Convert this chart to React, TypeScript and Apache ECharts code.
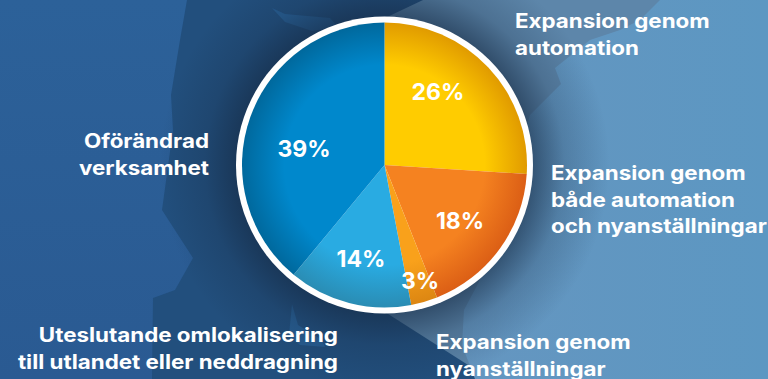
import React, { useEffect, useRef } from "react";
import * as echarts from "echarts";

// Survey outcome shares, clockwise from twelve o'clock.
const categories = [
  "Expansion genom\nautomation",
  "Expansion genom\nbåde automation\noch nyanställningar",
  "Expansion genom\nnyanställningar",
  "Uteslutande omlokalisering\ntill utlandet eller neddragning",
  "Oförändrad\nverksamhet",
];
const shares = [26, 18, 3, 14, 39];

const sliceInner = ["#ffcc00", "#f58220", "#f9a11b", "#29abe2", "#0088cc"];
const sliceRim = ["#e09a00", "#db5e15", "#dc8612", "#2a8cb3", "#00689c"];

const percentSpots = [
  [438, 92],
  [460, 221],
  [420, 281],
  [361, 259],
  [304, 149],
];
const nameSpots: [number, number, "left" | "right"][] = [
  [515, 8, "left"],
  [551, 160, "left"],
  [436, 329, "left"],
  [338, 322, "right"],
  [209, 128, "right"],
];

const FONT = "Inter";
const CX = 384.5;
const CY = 165;

const poly = (points: number[][], fill: any, z: number) => ({
  type: "polygon",
  z,
  silent: true,
  shape: { points },
  style: { fill },
});

const lightMap = [
  [660, 0], [640, 20], [620, 30], [590, 40], [555, 68], [561, 84], [530, 115],
  [505, 200], [480, 280], [464, 310], [462, 345], [475, 379], [768, 379], [768, 0],
];
const shadeWedge = [[423, 0], [385, 18], [385, 312], [490, 379], [768, 379], [768, 0]];
const darkBand = [
  [187, 0], [180, 40], [171, 95], [173, 130], [162, 210], [193, 258], [175, 290],
  [153, 298], [152, 379], [768, 379], [768, 0],
];
const topFleck = [[272, 8], [285, 14], [330, 18], [338, 27], [312, 31], [285, 22]];
const lowFleck = [[292, 304], [298, 325], [322, 340], [325, 347], [300, 345], [289, 335]];

export default function App() {
  const ref = useRef<HTMLDivElement>(null);

  useEffect(() => {
    const chart = echarts.init(ref.current!, null, { renderer: "svg" });
    chart.setOption({
      animation: false,
      backgroundColor: {
        type: "linear", x: 0, y: 0, x2: 0, y2: 1,
        colorStops: [{ offset: 0, color: "#2c6199" }, { offset: 1, color: "#2a5a92" }],
      },
      graphic: {
        elements: [
          poly(darkBand, "#224f7d", 0),
          poly(topFleck, "#285f94", 0),
          poly(lowFleck, "#285f94", 0),
          poly(shadeWedge, "#5d86aa", 1),
          poly(lightMap, {
            type: "linear", x: 0, y: 0, x2: 1, y2: 0,
            colorStops: [{ offset: 0, color: "#6596c0" }, { offset: 1, color: "#5c97c2" }],
          }, 2),
          {
            type: "circle",
            z: 3,
            silent: true,
            shape: { cx: CX, cy: CY, r: 225 },
            style: {
              fill: {
                type: "radial", x: CX, y: CY, r: 225, global: true,
                colorStops: [
                  { offset: 0, color: "rgba(20,40,65,0.6)" },
                  { offset: 0.65, color: "rgba(20,40,65,0.62)" },
                  { offset: 0.8, color: "rgba(20,40,65,0.22)" },
                  { offset: 1, color: "rgba(20,40,65,0)" },
                ],
              },
            },
          },
          {
            type: "circle",
            z: 4,
            silent: true,
            shape: { cx: CX, cy: CY, r: 148.5 },
            style: { fill: "#ffffff" },
          },
          ...categories.map((name, i) => ({
            type: "text",
            z: 20,
            x: nameSpots[i][0],
            y: nameSpots[i][1],
            scaleX: 1.147,
            style: {
              text: name,
              fill: "#ffffff",
              font: `700 19.5px ${FONT}`,
              lineHeight: 26.5,
              align: nameSpots[i][2],
              verticalAlign: "top",
            },
          })),
        ],
      },
      series: [
        {
          type: "pie",
          z: 5,
          center: [CX, CY],
          radius: [0, 142.5],
          startAngle: 90,
          clockwise: true,
          silent: true,
          labelLine: { show: false },
          label: {
            show: true,
            position: "inside",
            formatter: "{c}%",
            color: "#ffffff",
            fontFamily: FONT,
            fontWeight: 700,
            fontSize: 23,
          },
          labelLayout: (p: any) => ({
            x: percentSpots[p.dataIndex][0],
            y: percentSpots[p.dataIndex][1],
            align: "center",
            verticalAlign: "middle",
          }),
          data: shares.map((value, i) => ({
            value,
            name: categories[i],
            itemStyle: {
              color: {
                type: "radial", x: CX, y: CY, r: 143, global: true,
                colorStops: [
                  { offset: 0, color: sliceInner[i] },
                  { offset: 0.7, color: sliceInner[i] },
                  { offset: 1, color: sliceRim[i] },
                ],
              },
            },
          })),
        },
      ],
    });
    return () => chart.dispose();
  }, []);

  return (
    <div
      ref={ref}
      style={{ position: "absolute", left: 0, top: 0, width: 768, height: 379, overflow: "hidden" }}
    />
  );
}
